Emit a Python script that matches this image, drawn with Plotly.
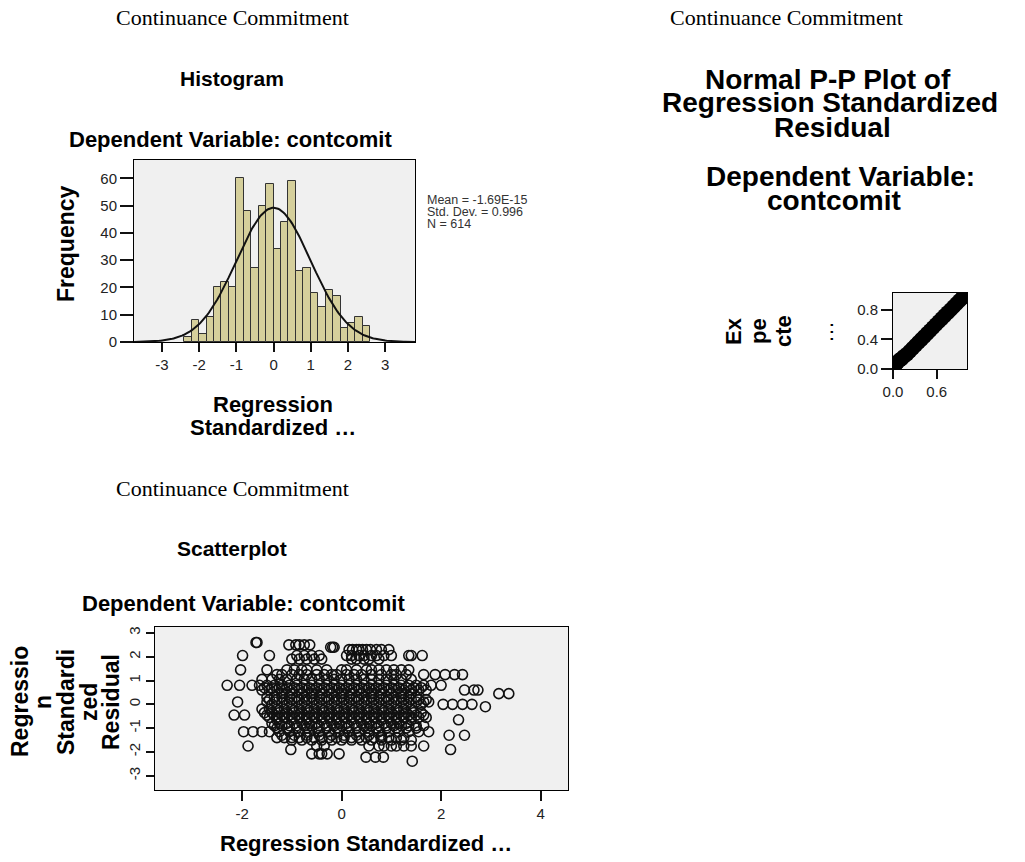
import numpy as np
import plotly.graph_objects as go

# ---------------- DATA ----------------
# Histogram of regression standardized residuals (bin width 0.2)
hist_centers = [-2.3, -2.1, -1.9, -1.7, -1.5, -1.3, -1.1, -0.9, -0.7, -0.5, -0.3, -0.1,
                0.1, 0.3, 0.5, 0.7, 0.9, 1.1, 1.3, 1.5, 1.7, 1.9, 2.1, 2.3, 2.5]
hist_counts = [2, 8, 3, 9, 20, 22, 20, 60, 48, 27, 50, 58,
               34, 44, 59, 26, 27, 18, 13, 19, 17, 5, 7, 9, 6]
hist_bin_width = 0.2
stat_mean = -1.69e-15
stat_sd = 0.996
stat_n = 614
hist_xticks = [-3, -2, -1, 0, 1, 2, 3]
hist_xticktext = ["-3", "-2", "-1", "0", "1", "2", "3"]
hist_yticks = [0, 10, 20, 30, 40, 50, 60]

# Normal P-P plot (observed cum prob vs expected cum prob)
pp_observed = [0.00, 0.02, 0.04, 0.06, 0.09, 0.12, 0.15, 0.19, 0.23, 0.27, 0.31, 0.35, 0.39, 0.43,
               0.47, 0.51, 0.55, 0.59, 0.63, 0.67, 0.71, 0.75, 0.79, 0.83, 0.87, 0.91, 0.95, 0.98, 1.00]
pp_expected = [0.00, 0.04, 0.07, 0.09, 0.12, 0.14, 0.17, 0.20, 0.24, 0.28, 0.32, 0.36, 0.40, 0.44,
               0.48, 0.52, 0.56, 0.60, 0.64, 0.68, 0.72, 0.76, 0.80, 0.84, 0.88, 0.92, 0.96, 0.99, 1.01]
pp_xticks = [0.0, 0.6]
pp_xticktext = ["0.0", "0.6"]
pp_yticks = [0.0, 0.4, 0.8]
pp_yticktext = ["0.0", "0.4", "0.8"]

# Scatterplot: rows of residual level -> predicted values
resid_levels = [2.6, 2.5, 2.4, 2.3, 2.05, 1.9, 1.45, 1.25, 1.05, 0.8, 0.7, 0.6, 0.45, 0.3, 0.2, 0.1, 0.0,
                -0.1, -0.2, -0.35, -0.45, -0.55, -0.65, -0.8, -0.9, -1.0, -1.15, -1.3, -1.4, -1.5,
                -1.75, -1.9, -2.08, -2.22, -2.39]
pred_rows = [
    [-1.72, -1.70],
    [-1.06, -0.92, -0.85, -0.75, -0.64],
    [-0.22, -0.18, -0.15],
    [0.15, 0.22, 0.30, 0.35, 0.42, 0.50, 0.58, 0.70, 0.80, 0.95],
    [-1.99, -1.45, -0.90, -0.75, -0.60, -0.45, 0.10, 0.20, 0.35, 0.45, 0.60, 0.70, 0.85, 1.00, 1.35, 1.40, 1.62],
    [-1.00, -0.85, -0.70, -0.55, -0.40, 0.20, 0.30, 0.45, 0.55, 0.75],
    [-2.03, -1.50, -1.10, -0.95, -0.80, -0.70, -0.50, -0.30, 0.00, 0.10, 0.30, 0.50, 0.60, 0.75, 0.90, 1.05, 1.20, 1.35],
    [-1.30, -1.20, -1.00, -0.85, -0.70, -0.50, -0.35, -0.20, -0.10, 0.10, 0.25, 0.40, 0.60, 0.80, 1.00, 1.10, 1.30,
     1.65, 1.88, 2.08, 2.27, 2.43],
    [-1.60, -1.40, -1.25, -1.10, -0.90, -0.75, -0.60, -0.45, -0.30, -0.15, 0.00, 0.15, 0.30, 0.45, 0.60, 0.75, 0.90,
     1.05, 1.20, 1.40],
    [-2.30, -2.05, -1.80, -1.65, -1.50, -1.35, -1.20, -1.05, -0.90, -0.75, -0.60, -0.45, -0.30, -0.15, 0.00, 0.15,
     0.30, 0.45, 0.60, 0.75, 0.90, 1.05, 1.20, 1.35, 1.50, 1.65, 1.80, 2.00],
    [-1.55, -1.40, -1.25, -1.10, -0.95, -0.80, -0.65, -0.50, -0.35, -0.20, -0.05, 0.10, 0.25, 0.40, 0.55, 0.70,
     0.85, 1.00, 1.15, 1.30, 1.45, 1.60],
    [-1.60, -1.45, -1.30, -1.15, -1.00, -0.85, -0.70, -0.55, -0.40, -0.25, -0.10, 0.05, 0.20, 0.35, 0.50, 0.65, 0.80,
     0.95, 1.10, 1.25, 1.40, 1.55, 1.70, 2.47, 2.66, 2.74],
    [-1.20, -1.00, -0.80, -0.60, -0.40, -0.20, 0.00, 0.20, 0.40, 0.60, 0.80, 1.00, 1.20, 1.40, 3.16, 3.36],
    [-1.50, -1.35, -1.20, -1.05, -0.90, -0.75, -0.60, -0.45, -0.30, -0.15, 0.00, 0.15, 0.30, 0.45, 0.60, 0.75, 0.90,
     1.05, 1.20, 1.35, 1.50],
    [-1.45, -1.30, -1.15, -1.00, -0.85, -0.70, -0.55, -0.40, -0.25, -0.10, 0.05, 0.20, 0.35, 0.50, 0.65, 0.80,
     0.95, 1.10, 1.25, 1.40, 1.55, 1.70],
    [-2.09, -1.50, -1.35, -1.20, -1.05, -0.90, -0.75, -0.60, -0.45, -0.30, -0.15, 0.00, 0.15, 0.30, 0.45, 0.60, 0.75,
     0.90, 1.05, 1.20, 1.35, 1.50, 1.65, 1.75],
    [-1.40, -1.10, -0.80, -0.50, -0.20, 0.10, 0.40, 0.70, 1.00, 1.30, 1.60, 2.04, 2.23, 2.43, 2.62],
    [2.89],
    [-1.60, -1.45, -1.30, -1.15, -1.00, -0.85, -0.70, -0.55, -0.40, -0.25, -0.10, 0.05, 0.20, 0.35, 0.50, 0.65, 0.80,
     0.95, 1.10, 1.25, 1.40],
    [-1.55, -1.40, -1.25, -1.10, -0.95, -0.80, -0.65, -0.50, -0.35, -0.20, -0.05, 0.10, 0.25, 0.40, 0.55, 0.70,
     0.85, 1.00, 1.15, 1.30, 1.45, 1.60],
    [-2.16, -1.95, -1.50, -1.35, -1.20, -1.05, -0.90, -0.75, -0.60, -0.45, -0.30, -0.15, 0.00, 0.15, 0.30, 0.45, 0.60,
     0.75, 0.90, 1.05, 1.20, 1.35, 1.50, 1.65],
    [-1.45, -1.30, -1.15, -1.00, -0.85, -0.70, -0.55, -0.40, -0.25, -0.10, 0.05, 0.20, 0.35, 0.50, 0.65, 0.80,
     0.95, 1.10, 1.25, 1.40, 1.55, 1.70],
    [-1.30, -1.00, -0.70, -0.40, -0.10, 0.20, 0.50, 0.80, 1.10, 1.40, 2.35],
    [-1.40, -1.25, -1.10, -0.95, -0.80, -0.65, -0.50, -0.35, -0.20, -0.05, 0.10, 0.25, 0.40, 0.55, 0.70, 0.85, 1.00,
     1.15, 1.30],
    [-1.35, -1.20, -1.05, -0.90, -0.75, -0.60, -0.45, -0.30, -0.15, 0.00, 0.15, 0.30, 0.45, 0.60, 0.75, 0.90,
     1.05, 1.20, 1.35, 1.50, 1.65],
    [-1.30, -1.10, -0.90, -0.70, -0.50, -0.30, -0.10, 0.10, 0.30, 0.50, 0.70, 0.90, 1.10, 1.30, 1.50],
    [-1.97, -1.78, -1.60, -1.45, -1.25, -1.05, -0.85, -0.65, -0.45, -0.25, -0.05, 0.15, 0.35, 0.55, 0.75, 0.95, 1.15,
     1.35, 1.55, 1.75],
    [-1.20, -0.95, -0.70, -0.45, -0.20, 0.05, 0.30, 0.55, 0.80, 2.16, 2.47],
    [-1.30, -1.15, -1.00, -0.85, -0.70, -0.55, -0.40, -0.25, -0.10, 0.05, 0.20, 0.35, 0.50, 0.65, 0.80, 0.95,
     1.10, 1.25],
    [-1.00, -0.80, -0.60, -0.40, -0.20, 0.00, 0.20, 0.40, 0.60, 0.80, 1.00, 1.20, 1.40],
    [-1.88, -0.50, -0.35, 0.55, 0.75, 0.85, 1.00, 1.10, 1.25, 1.40, 1.65],
    [-1.02, 2.19],
    [-0.60, -0.45, -0.40, -0.29, -0.05],
    [0.49, 0.68, 0.84],
    [1.42],
]
sc_xticks = [-2, 0, 2, 4]
sc_xticktext = ["-2", "0", "2", "4"]
sc_yticks = [-3, -2, -1, 0, 1, 2, 3]
sc_yticktext = ["-3", "-2", "-1", "0", "1", "2", "3"]

# ---------------- BUILD ----------------
W, H = 1025, 862
SANS = "Liberation Sans, Arial, sans-serif"
SERIF = "Liberation Serif, Times New Roman, serif"

def px(x):
    return x / W

def py(y):
    return 1 - y / H

sc_x = [v for row in pred_rows for v in row]
sc_y = [lvl for lvl, row in zip(resid_levels, pred_rows) for _ in row]

curve_x = np.linspace(-3.75, 3.8, 200)
curve_y = stat_n * hist_bin_width / (stat_sd * np.sqrt(2 * np.pi)) * np.exp(-0.5 * ((curve_x - stat_mean) / stat_sd) ** 2)

fig = go.Figure()
fig.add_trace(go.Bar(x=hist_centers, y=hist_counts, width=hist_bin_width,
                     marker=dict(color="#d5cf9b", line=dict(color="#333333", width=1)),
                     xaxis="x", yaxis="y"))
fig.add_trace(go.Scatter(x=curve_x, y=curve_y, mode="lines", line=dict(color="#111111", width=2),
                         xaxis="x", yaxis="y"))
fig.add_trace(go.Scatter(x=pp_observed, y=pp_expected, mode="markers",
                         marker=dict(color="#000000", size=15, line=dict(width=0)),
                         xaxis="x2", yaxis="y2"))
fig.add_trace(go.Scatter(x=sc_x, y=sc_y, mode="markers",
                         marker=dict(symbol="circle-open", color="#111111", size=10, line=dict(width=1.6)),
                         xaxis="x3", yaxis="y3"))

tickfont = dict(family=SANS, size=15, color="#222222")

def axis(domain, rng, tickvals, ticktext, anchor, tickangle=None, ticklen=10):
    d = dict(domain=domain, range=rng, tickvals=tickvals, ticktext=ticktext, anchor=anchor,
             showline=True, mirror=True, linecolor="#000000", linewidth=1, automargin=False,
             ticks="outside", ticklen=ticklen, tickwidth=1.6, tickcolor="#111111",
             showgrid=False, zeroline=False, tickfont=tickfont, fixedrange=True)
    if tickangle is not None:
        d["tickangle"] = tickangle
    return d

fig.update_layout(
    width=W, height=H, margin=dict(l=0, r=0, t=0, b=0, pad=0, autoexpand=False),
    paper_bgcolor="white", plot_bgcolor="#f0f0f0", showlegend=False, bargap=0,
    xaxis=axis([px(134), px(415)], [-3.75, 3.8], hist_xticks, hist_xticktext, "y", ticklen=9),
    yaxis=axis([py(342), py(160)], [0, 66.7], hist_yticks, [str(v) for v in hist_yticks], "x", ticklen=13),
    xaxis2=axis([px(893), px(967)], [0, 1.015], pp_xticks, pp_xticktext, "y2", ticklen=9),
    yaxis2=axis([py(369), py(293)], [0, 1.025], pp_yticks, pp_yticktext, "x2", ticklen=11),
    xaxis3=axis([px(155), px(568)], [-3.75, 4.55], sc_xticks, sc_xticktext, "y3"),
    yaxis3=axis([py(790), py(627)], [-3.6, 3.25], sc_yticks, sc_yticktext, "x3", tickangle=-90, ticklen=8),
)

def note(text, x, y, size, bold=False, family=SANS, angle=0, xanchor="center", color="#000000"):
    if bold:
        text = "<b>" + text + "</b>"
    fig.add_annotation(text=text, x=px(x), y=py(y), xref="paper", yref="paper",
                       xanchor=xanchor, yanchor="middle", showarrow=False, textangle=angle,
                       borderpad=0, font=dict(family=family, size=size, color=color))

# Panel 1: Histogram
note("Continuance Commitment", 232, 18, 22, family=SERIF)
note("Histogram", 232, 78, 21, bold=True)
note("Dependent Variable: contcomit", 230, 140, 22, bold=True)
note("Frequency", 66, 244, 23, bold=True, angle=-90)
note("Regression", 273, 404, 22, bold=True)
note("Standardized …", 273, 428, 22, bold=True)
note("Mean = -1.69E-15", 426, 200, 12.5, xanchor="left", color="#333333")
note("Std. Dev. = 0.996", 426, 212, 12.5, xanchor="left", color="#333333")
note("N = 614", 426, 224, 12.5, xanchor="left", color="#333333")

# Panel 2: Normal P-P plot
note("Continuance Commitment", 786, 18, 22, family=SERIF)
note("Normal P-P Plot of", 828, 79, 28, bold=True)
note("Regression Standardized", 830, 103, 28, bold=True)
note("Residual", 832, 127, 28, bold=True)
note("Dependent Variable:", 840, 176, 28, bold=True)
note("contcomit", 834, 200, 28, bold=True)
note("Ex", 733, 331, 22, bold=True, angle=-90)
note("pe", 758, 331, 22, bold=True, angle=-90)
note("cte", 783, 331, 22, bold=True, angle=-90)
note("…", 826, 332, 22, angle=-90)

# Panel 3: Scatterplot
note("Continuance Commitment", 232, 488, 22, family=SERIF)
note("Scatterplot", 232, 548, 21, bold=True)
note("Dependent Variable: contcomit", 243, 603, 22, bold=True)
for label, xx in zip(["Regressio", "n", "Standardi", "zed", "Residual"], [20, 43, 66, 89, 111]):
    note(label, xx, 702, 23, bold=True, angle=-90)
note("Regression Standardized …", 366, 843, 22, bold=True)

fig.write_html("out.html")
